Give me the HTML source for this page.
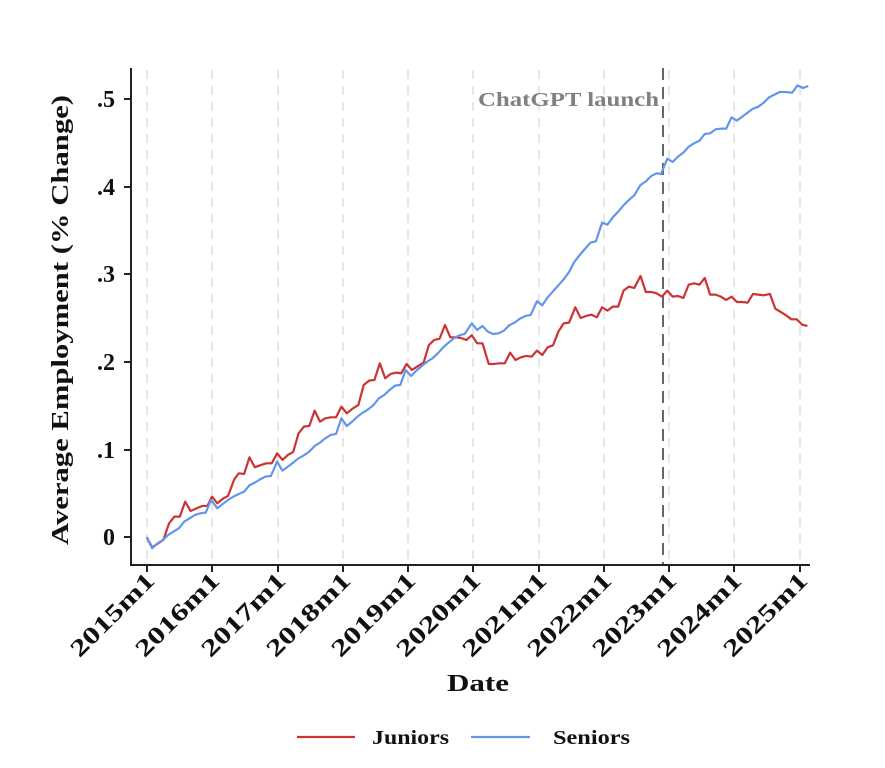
<!DOCTYPE html>
<html><head><meta charset="utf-8"><style>
html,body{margin:0;padding:0;background:#fff;}
svg{display:block;font-family:"Liberation Serif",serif;}
</style></head><body>
<svg width="885" height="768" viewBox="0 0 885 768" xmlns="http://www.w3.org/2000/svg">
<rect width="885" height="768" fill="#fff"/>
<g stroke="#e6e6e6" stroke-width="2" stroke-dasharray="9,7">
<line x1="147" y1="70" x2="147" y2="563"/><line x1="212" y1="70" x2="212" y2="563"/>
<line x1="278" y1="70" x2="278" y2="563"/><line x1="343" y1="70" x2="343" y2="563"/>
<line x1="408" y1="70" x2="408" y2="563"/><line x1="473" y1="70" x2="473" y2="563"/>
<line x1="539" y1="70" x2="539" y2="563"/><line x1="604" y1="70" x2="604" y2="563"/>
<line x1="669" y1="70" x2="669" y2="563"/><line x1="734" y1="70" x2="734" y2="563"/>
<line x1="800" y1="70" x2="800" y2="563"/>
</g>
<line x1="663" y1="68" x2="663" y2="565" stroke="#666" stroke-width="2" stroke-dasharray="12,7"/>
<text x="659" y="106" text-anchor="end" font-size="20" font-weight="bold" fill="#808080" textLength="181" lengthAdjust="spacingAndGlyphs">ChatGPT launch</text>
<g transform="translate(120,60) scale(0.4464,0.3333)" fill="none" stroke-width="2.2" stroke-linejoin="round">
<polyline vector-effect="non-scaling-stroke" stroke="#cc3333" points="60,1432 72,1462 97,1440 110,1390 122,1370 134,1370 146,1325 158,1353 172,1345 184,1338 196,1338 206,1310 218,1330 232,1315 242,1308 256,1258 266,1240 278,1242 290,1192 302,1222 316,1215 328,1210 340,1210 352,1180 364,1200 376,1185 388,1176 400,1120 412,1100 424,1098 436,1052 448,1085 460,1075 472,1072 484,1072 496,1040 508,1060 522,1045 534,1035 546,975 558,962 570,960 582,910 594,955 606,942 618,938 630,940 642,912 654,930 668,918 680,908 692,855 704,840 716,836 728,795 740,832 752,832 764,834 776,840 788,826 800,850 812,850 826,912 838,912 850,910 862,910 874,878 886,900 898,892 910,888 922,890 934,872 946,885 958,862 970,856 982,815 994,790 1006,788 1020,742 1032,774 1044,768 1056,764 1068,772 1080,742 1092,752 1104,740 1116,740 1128,692 1140,680 1152,684 1166,648 1178,696 1190,696 1202,700 1214,710 1226,692 1238,710 1250,708 1262,714 1274,674 1286,670 1298,674 1310,654 1322,704 1334,704 1346,710 1358,720 1370,710 1382,726 1394,726 1406,728 1418,702 1430,704 1442,706 1456,702 1468,746 1480,756 1492,766 1504,778 1516,778 1528,794 1540,798"/>
<polyline vector-effect="non-scaling-stroke" stroke="#6495ed" points="60,1432 72,1465 84,1450 96,1440 108,1425 120,1415 132,1405 144,1385 156,1375 168,1365 180,1360 192,1358 204,1320 218,1345 230,1332 242,1320 254,1310 266,1302 278,1295 290,1276 302,1268 314,1258 326,1250 338,1248 352,1205 364,1232 376,1220 388,1208 400,1195 412,1186 424,1175 436,1158 448,1148 460,1135 472,1125 484,1122 496,1075 508,1098 520,1085 532,1070 544,1058 556,1048 568,1035 580,1015 592,1005 604,990 616,977 628,975 640,930 652,948 664,932 676,918 688,905 700,895 712,880 724,862 736,848 748,835 760,826 772,822 788,790 800,810 812,798 824,815 836,822 848,820 860,812 872,796 884,788 896,776 908,768 920,765 934,724 946,736 958,712 970,694 982,676 994,658 1006,636 1018,605 1030,585 1042,566 1054,548 1066,544 1080,488 1092,494 1104,472 1116,455 1128,436 1140,420 1152,406 1166,375 1178,364 1190,348 1202,340 1212,342 1226,296 1238,306 1250,290 1262,278 1274,260 1286,250 1298,242 1310,222 1322,220 1334,208 1346,206 1358,206 1370,172 1382,182 1394,170 1406,158 1418,146 1430,140 1442,128 1454,112 1466,104 1478,96 1490,96 1506,98 1518,76 1530,84 1542,78"/>
</g>
<g stroke="#222" stroke-width="2">
<line x1="131" y1="68" x2="131" y2="565"/>
<line x1="130" y1="565" x2="810" y2="565"/>
<line x1="124" y1="537" x2="131" y2="537"/><line x1="124" y1="450" x2="131" y2="450"/>
<line x1="124" y1="362" x2="131" y2="362"/><line x1="124" y1="274" x2="131" y2="274"/>
<line x1="124" y1="187" x2="131" y2="187"/><line x1="124" y1="99" x2="131" y2="99"/>
<line x1="147" y1="565" x2="147" y2="572"/><line x1="212" y1="565" x2="212" y2="572"/>
<line x1="278" y1="565" x2="278" y2="572"/><line x1="343" y1="565" x2="343" y2="572"/>
<line x1="408" y1="565" x2="408" y2="572"/><line x1="473" y1="565" x2="473" y2="572"/>
<line x1="539" y1="565" x2="539" y2="572"/><line x1="604" y1="565" x2="604" y2="572"/>
<line x1="669" y1="565" x2="669" y2="572"/><line x1="734" y1="565" x2="734" y2="572"/>
<line x1="800" y1="565" x2="800" y2="572"/>
</g>
<g font-size="24" font-weight="bold" fill="#111" text-anchor="end">
<text x="115" y="545">0</text><text x="115" y="458">.1</text><text x="115" y="370">.2</text>
<text x="115" y="282">.3</text><text x="115" y="195">.4</text><text x="115" y="107">.5</text>
</g>
<g font-size="24" font-weight="bold" fill="#111" text-anchor="end">
<text transform="translate(156,582) rotate(-45)" textLength="108" lengthAdjust="spacingAndGlyphs">2015m1</text>
<text transform="translate(221,582) rotate(-45)" textLength="108" lengthAdjust="spacingAndGlyphs">2016m1</text>
<text transform="translate(287,582) rotate(-45)" textLength="108" lengthAdjust="spacingAndGlyphs">2017m1</text>
<text transform="translate(352,582) rotate(-45)" textLength="108" lengthAdjust="spacingAndGlyphs">2018m1</text>
<text transform="translate(417,582) rotate(-45)" textLength="108" lengthAdjust="spacingAndGlyphs">2019m1</text>
<text transform="translate(482,582) rotate(-45)" textLength="108" lengthAdjust="spacingAndGlyphs">2020m1</text>
<text transform="translate(548,582) rotate(-45)" textLength="108" lengthAdjust="spacingAndGlyphs">2021m1</text>
<text transform="translate(613,582) rotate(-45)" textLength="108" lengthAdjust="spacingAndGlyphs">2022m1</text>
<text transform="translate(678,582) rotate(-45)" textLength="108" lengthAdjust="spacingAndGlyphs">2023m1</text>
<text transform="translate(743,582) rotate(-45)" textLength="108" lengthAdjust="spacingAndGlyphs">2024m1</text>
<text transform="translate(809,582) rotate(-45)" textLength="108" lengthAdjust="spacingAndGlyphs">2025m1</text>
</g>
<text transform="translate(68,320) rotate(-90)" text-anchor="middle" font-size="24" font-weight="bold" fill="#111" textLength="450" lengthAdjust="spacingAndGlyphs">Average Employment (% Change)</text>
<text x="478" y="691" text-anchor="middle" font-size="24" font-weight="bold" fill="#111" textLength="62" lengthAdjust="spacingAndGlyphs">Date</text>
<line x1="297" y1="737" x2="355" y2="737" stroke="#cc3333" stroke-width="2.2"/>
<text x="372" y="744" font-size="20" font-weight="bold" fill="#111" textLength="77" lengthAdjust="spacingAndGlyphs">Juniors</text>
<line x1="471" y1="737" x2="530" y2="737" stroke="#6495ed" stroke-width="2.2"/>
<text x="553" y="744" font-size="20" font-weight="bold" fill="#111" textLength="77" lengthAdjust="spacingAndGlyphs">Seniors</text>
</svg>
</body></html>
